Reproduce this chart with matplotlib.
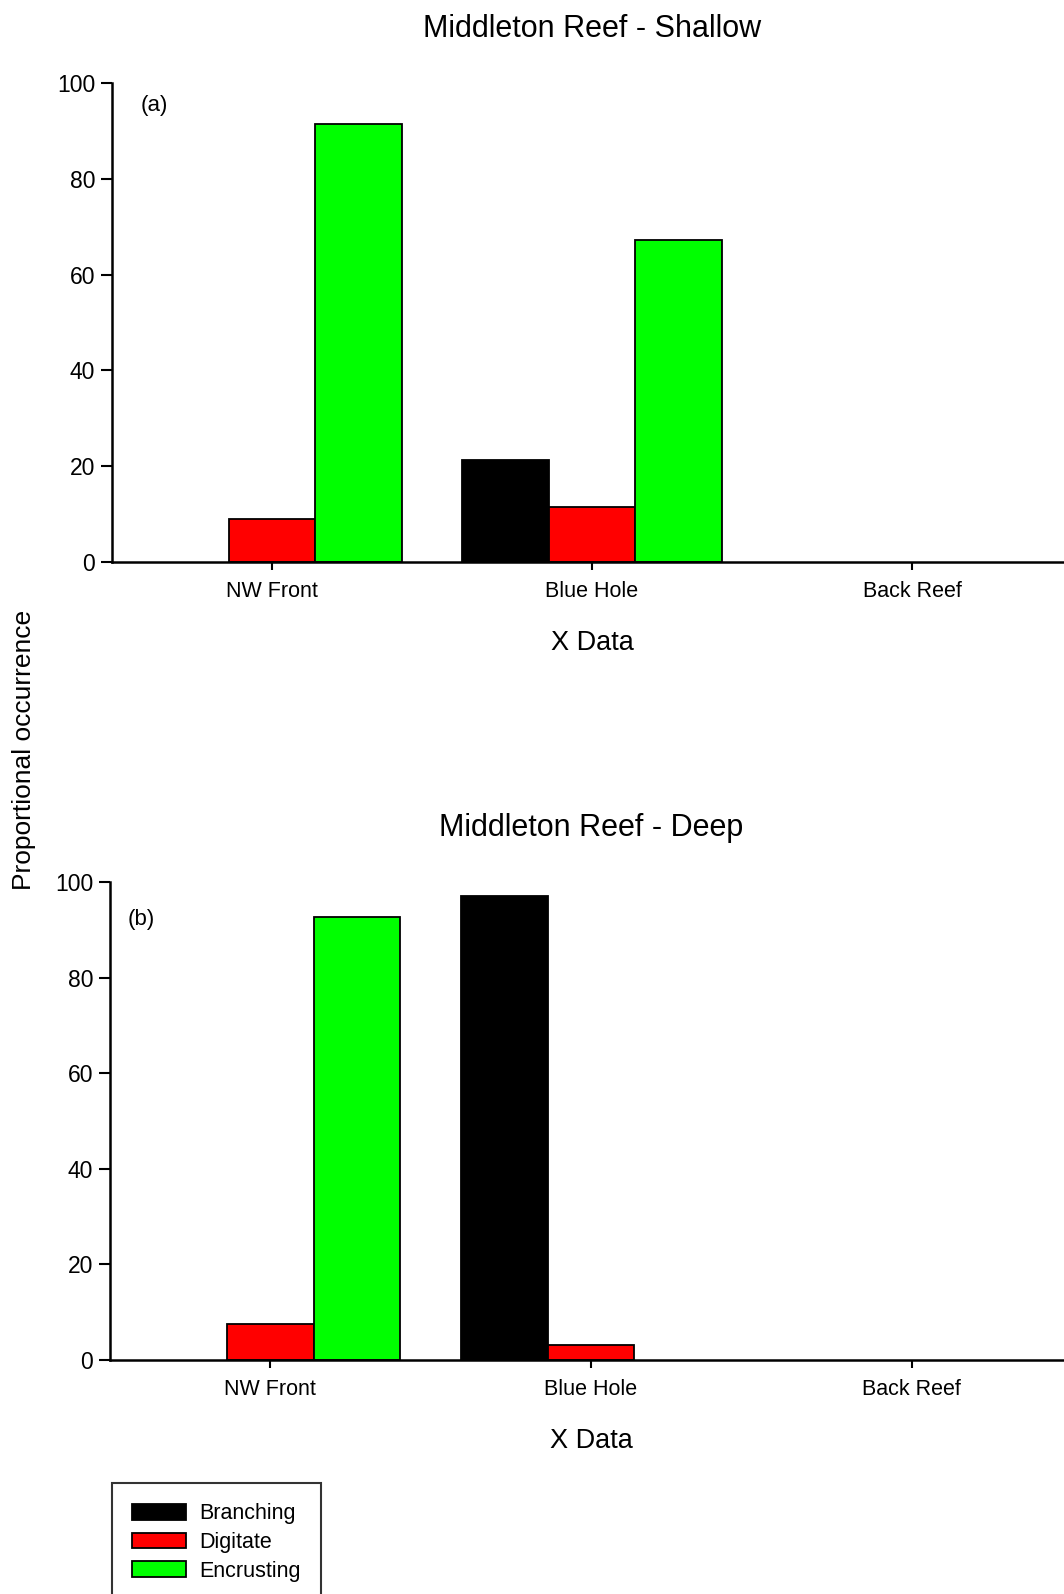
import matplotlib
matplotlib.use("Agg")
import matplotlib.pyplot as plt
from matplotlib.patches import Patch
import numpy as np

plt.rcParams['font.family'] = ['Liberation Sans', 'DejaVu Sans']

sites = ["NW Front", "Blue Hole", "Back Reef"]
series = ["Branching", "Digitate", "Encrusting"]
colors = ["#000000", "#ff0000", "#00ff00"]

shallow_branching = [0.0, 21.2, 0.0]
shallow_digitate = [9.0, 11.4, 0.0]
shallow_encrusting = [91.5, 67.2, 0.0]

deep_branching = [0.0, 97.0, 0.0]
deep_digitate = [7.5, 3.1, 0.0]
deep_encrusting = [92.6, 0.0, 0.0]

yticks = [0, 20, 40, 60, 80, 100]

W, H = 1064, 1594
fig = plt.figure(figsize=(W / 100, H / 100), dpi=100)


def fx(px):
    return px / W


def fy(py):
    return 1 - py / H


def make_axes(left, right, top, bottom):
    return fig.add_axes([fx(left), fy(bottom), fx(right - left), (bottom - top) / H])


def draw_panel(ax, data, title, tag, tagpos):
    x = np.arange(len(sites))
    w = 0.27
    for i, (vals, c) in enumerate(zip(data, colors)):
        lws = [1.3 if v > 0 else 0.0 for v in vals]
        ax.bar(x + (i - 1) * w, vals, width=w, color=c, edgecolor="black",
               linewidth=lws, label=series[i], zorder=2)
    ax.set_xlim(-0.5, 2.5)
    ax.set_ylim(0, 100)
    ax.set_xticks(x)
    ax.set_xticklabels(sites, fontsize=15.5)
    ax.set_yticks(yticks)
    ax.set_yticklabels([str(v) for v in yticks], fontsize=16.5)
    for s in ["top", "right"]:
        ax.spines[s].set_visible(False)
    for s in ["left", "bottom"]:
        ax.spines[s].set_linewidth(1.8)
        ax.spines[s].set_zorder(3)
    ax.tick_params(axis="y", length=8, width=1.5, pad=4)
    ax.tick_params(axis="x", length=6, width=1.5, pad=8)
    ax.set_xlabel("X Data", fontsize=19.5, labelpad=20)
    ax.set_title(title, fontsize=22, pad=33)
    ax.text(tagpos[0], tagpos[1], tag, transform=ax.transAxes, fontsize=16,
            ha="center", va="center")


ax1 = make_axes(112, 1072, 83, 562)
draw_panel(ax1, [shallow_branching, shallow_digitate, shallow_encrusting],
           "Middleton Reef - Shallow", "(a)", (0.044, 0.953))

ax2 = make_axes(110, 1072, 882, 1360)
draw_panel(ax2, [deep_branching, deep_digitate, deep_encrusting],
           "Middleton Reef - Deep", "(b)", (0.032, 0.922))

fig.text(fx(24), fy(750), "Proportional occurrence", rotation=90,
         fontsize=19, ha="center", va="center")

handles = [Patch(facecolor=c, edgecolor="black", linewidth=1.3) for c in colors]
leg = fig.legend(handles, series, loc="upper left",
                 bbox_to_anchor=(fx(112), fy(1483)), borderaxespad=0,
                 fontsize=15.5, frameon=True, fancybox=False,
                 handlelength=2.5, handleheight=0.75, handletextpad=0.6,
                 labelspacing=0.35, borderpad=0.95)
leg.get_frame().set_edgecolor("black")
leg.get_frame().set_linewidth(1.5)

fig.savefig("out.png", dpi=100)
